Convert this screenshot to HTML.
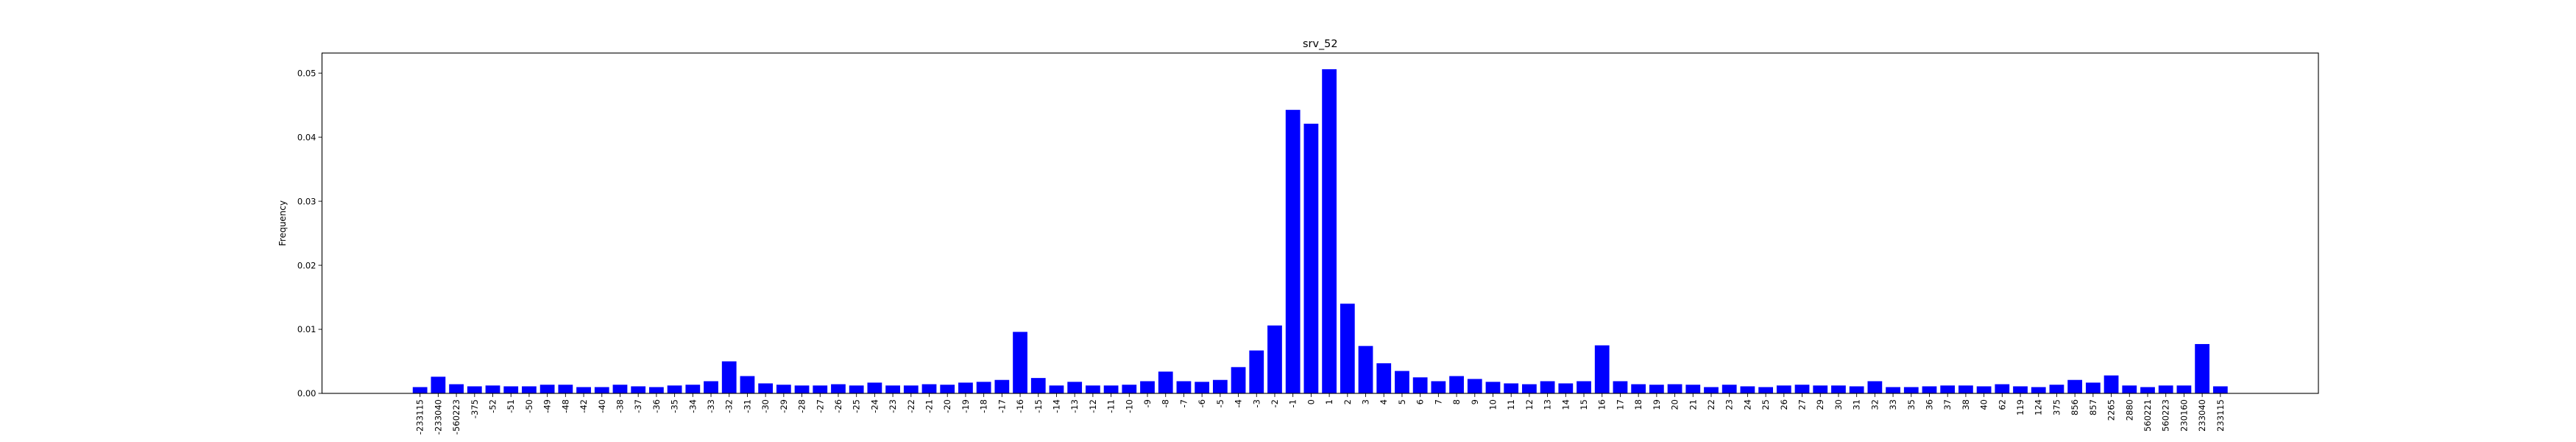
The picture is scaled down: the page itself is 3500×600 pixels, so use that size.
<!DOCTYPE html>
<html><head><meta charset="utf-8"><style>
html,body{margin:0;padding:0;background:#fff;}
svg{display:block;font-family:"DejaVu Sans","Liberation Sans",sans-serif;}
</style></head><body>
<svg id="chart" width="3500" height="600" viewBox="0 0 3500 600" xmlns="http://www.w3.org/2000/svg">
<rect width="3500" height="600" fill="#fff"/>
<text x="1793.75" y="64" font-size="14.4" text-anchor="middle">srv_52</text>
<text transform="translate(388,303) rotate(-90)" font-size="12" text-anchor="middle">Frequency</text>
<g id="bars"></g>
<g id="xticks"></g>
<g id="yticks"></g>
<rect x="437.5" y="72" width="2712.5" height="462" fill="none" stroke="#000" stroke-width="1.1"/>
</svg>
<script>
const categories = ["-233115","-233040","-560223","-375","-52","-51","-50","-49","-48","-42","-40","-38","-37","-36","-35","-34","-33","-32","-31","-30","-29","-28","-27","-26","-25","-24","-23","-22","-21","-20","-19","-18","-17","-16","-15","-14","-13","-12","-11","-10","-9","-8","-7","-6","-5","-4","-3","-2","-1","0","1","2","3","4","5","6","7","8","9","10","11","12","13","14","15","16","17","18","19","20","21","22","23","24","25","26","27","29","30","31","32","33","35","36","37","38","40","62","119","124","375","856","857","2265","2880","560221","560223","230160","233040","233115"];
const frequencies = [0.00098,0.0026,0.00143,0.0011,0.00123,0.0011,0.0011,0.00135,0.00135,0.00098,0.00098,0.00135,0.0011,0.00098,0.00123,0.00135,0.0019,0.005,0.0027,0.00156,0.00135,0.00123,0.00123,0.00143,0.00123,0.00168,0.00123,0.00123,0.00143,0.00135,0.00168,0.0018,0.0021,0.0096,0.0024,0.00123,0.0018,0.00123,0.00123,0.00135,0.0019,0.0034,0.0019,0.0018,0.0021,0.0041,0.0067,0.0106,0.04426,0.0421,0.0506,0.014,0.0074,0.0047,0.0035,0.0025,0.0019,0.0027,0.00225,0.0018,0.00156,0.00143,0.0019,0.00156,0.0019,0.0075,0.0019,0.00143,0.00135,0.00143,0.00135,0.00098,0.00135,0.0011,0.00098,0.00123,0.00135,0.00123,0.00123,0.0011,0.0019,0.00098,0.00098,0.0011,0.00123,0.00123,0.0011,0.00143,0.0011,0.00098,0.00135,0.0021,0.00168,0.0028,0.00123,0.00098,0.00123,0.00123,0.0077,0.0011];
const yTickValues = [0,0.01,0.02,0.03,0.04,0.05];
const yTickLabels = ["0.00","0.01","0.02","0.03","0.04","0.05"];

const NS="http://www.w3.org/2000/svg";
const L=437.5,R=3150,T=72,B=534;
const n=categories.length;
const xmin=-0.4-0.05*(n-0.2), xmax=(n-1)+0.4+0.05*(n-0.2);
function xs(i){return L+(i-xmin)/(xmax-xmin)*(R-L);}
const ymax=Math.max(...frequencies)*1.05;
function ys(v){return B-v/ymax*(B-T);}
const bw=0.8*(R-L)/(xmax-xmin);
const gb=document.getElementById('bars'),gx=document.getElementById('xticks'),gy=document.getElementById('yticks');
function mk(t,a){const e=document.createElementNS(NS,t);for(const k in a)e.setAttribute(k,a[k]);return e;}
frequencies.forEach((v,i)=>{
  const r=mk('rect',{x:xs(i)-bw/2,y:ys(v),width:bw,height:B-ys(v),fill:'#0000ff'});
  
  
  gb.appendChild(r);
});
categories.forEach((c,i)=>{
  const x=xs(i);
  const tk=mk('line',{x1:x,x2:x,y1:B,y2:B+4.9,stroke:'#000','stroke-width':0.9});
  
  
  gx.appendChild(tk);
  const t=mk('text',{transform:`translate(${x+4},${B+8}) rotate(-90)`,'font-size':11.5,'text-anchor':'end'});
  
  
  t.textContent=c;gx.appendChild(t);
});
yTickValues.forEach((v,i)=>{
  const y=ys(v);
  const tk=mk('line',{x1:L-4.9,x2:L,y1:y,y2:y,stroke:'#000','stroke-width':0.9});
  
  
  gy.appendChild(tk);
  const t=mk('text',{x:L-8,y:y+4.2,'font-size':11.5,'text-anchor':'end'});
  
  
  t.textContent=yTickLabels[i];gy.appendChild(t);
});
</script>
</body></html>
